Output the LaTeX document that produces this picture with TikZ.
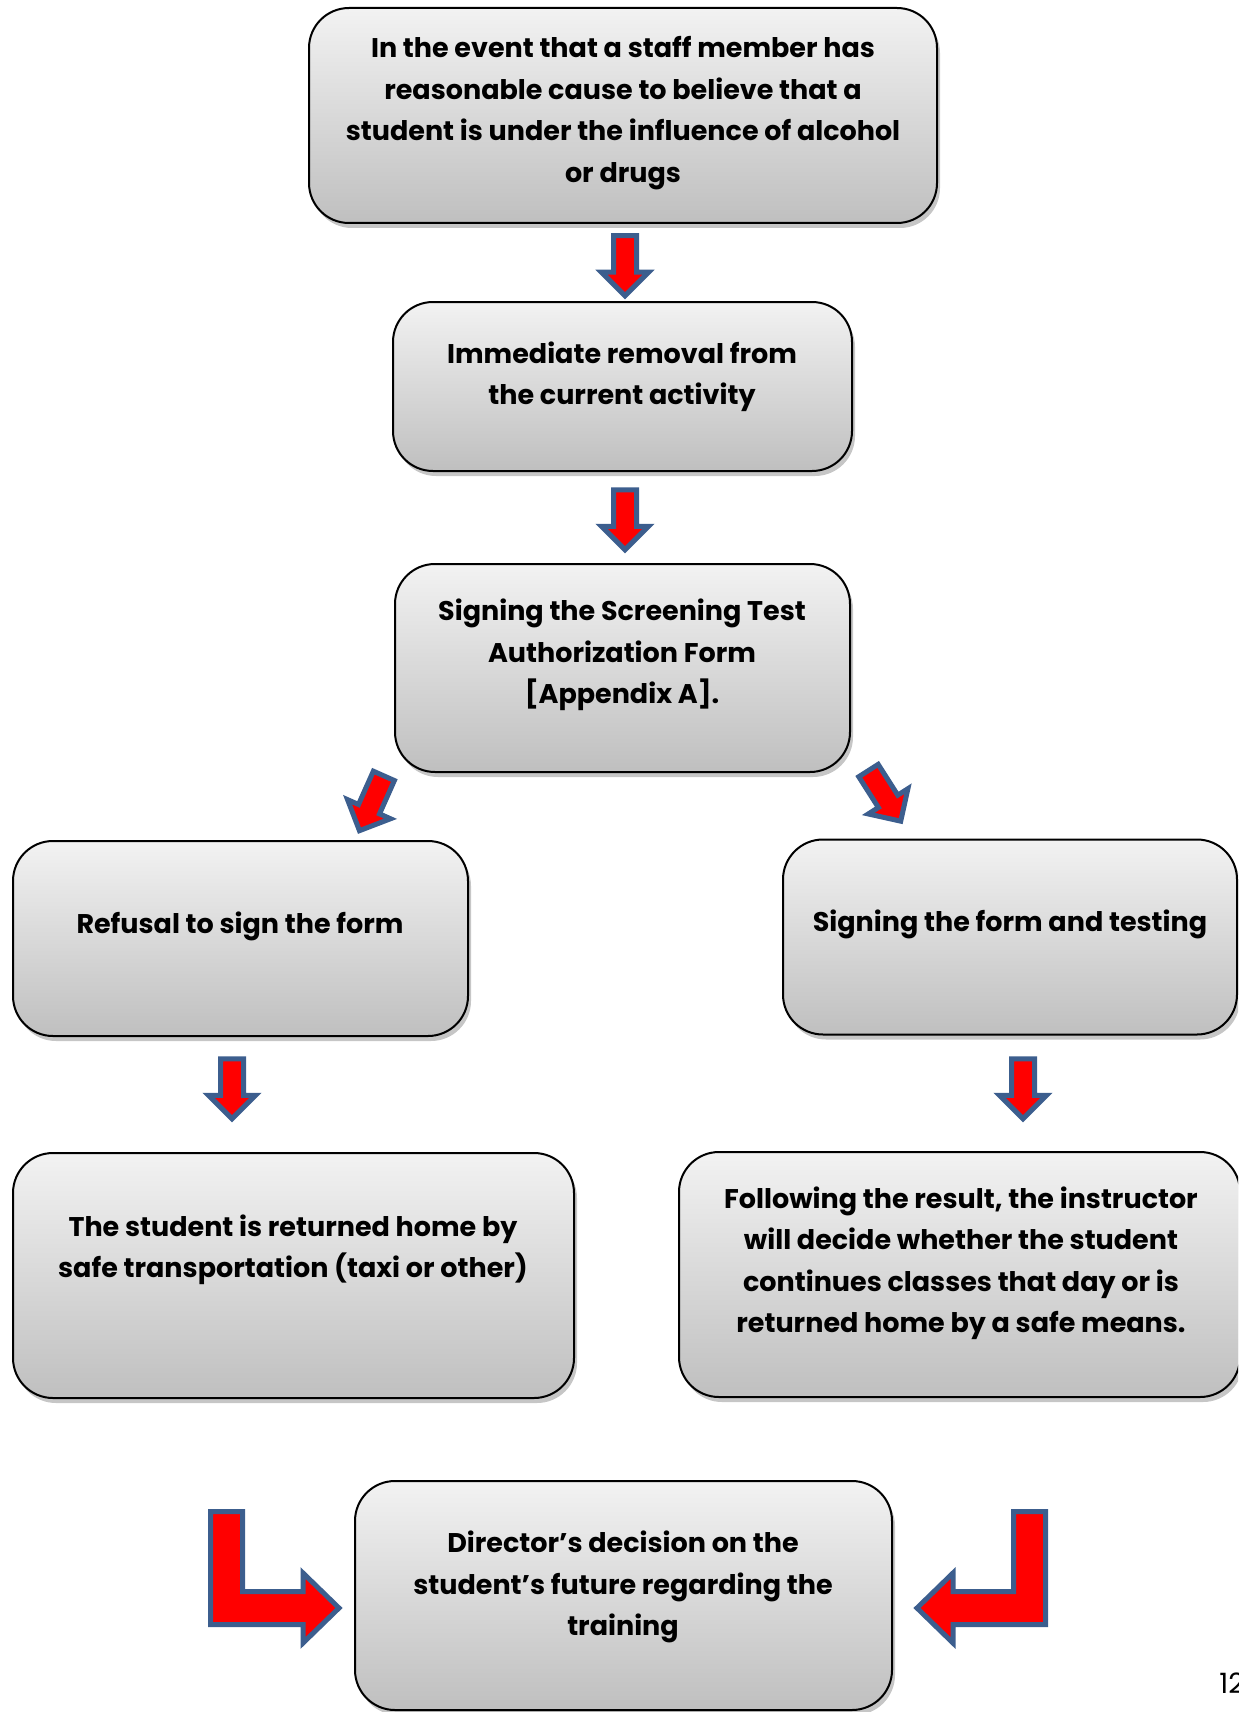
\documentclass[tikz,border=0pt]{standalone}
\usepackage{fontspec}
\setmainfont{Poppins}
\usetikzlibrary{shapes.arrows,shadows}

\definecolor{arrowred}{HTML}{FF0000}
\definecolor{arrowblue}{HTML}{3C5E8E}

\tikzset{
    box/.style={draw=black, line width=1pt, rounded corners=20pt,
        top color=gray!10, bottom color=gray!50,
        drop shadow={shadow xshift=1.5pt, shadow yshift=-2.5pt, opacity=0.45}},
    txt/.style={font=\bfseries\fontsize{13.5}{20.75}\selectfont, align=center},
    blockdown/.style={single arrow, draw=arrowblue, fill=arrowred, line width=2.5pt,
        minimum height=30pt, single arrow head extend=6pt, inner sep=4.5pt},
    bentarrow/.style={draw=arrowblue, fill=arrowred, line width=2.5pt, line join=miter}
}

\begin{document}
\begin{tikzpicture}[x=0.5pt, y=-0.5pt]
        \useasboundingbox (0,0) rectangle (1238,1712);
        \clip (0,0) rectangle (1238,1712);

        % boxes
        \node[box, minimum width=314pt, minimum height=107.5pt] (event) at (623, 115.5) {};
        \node[box, minimum width=229.5pt, minimum height=84.5pt] (removal) at (622.5, 386.5) {};
        \node[box, minimum width=227.5pt, minimum height=104pt] (signing) at (622.5, 668) {};
        \node[box, minimum width=227.5pt, minimum height=97.5pt] (refusal) at (240.5, 938.5) {};
        \node[box, minimum width=227pt, minimum height=97.5pt] (testing) at (1010, 937) {};
        \node[box, minimum width=280.5pt, minimum height=122.5pt] (home) at (293.5, 1275.5) {};
        \node[box, minimum width=280.5pt, minimum height=122.5pt] (result) at (959.5, 1274.5) {};
        \node[box, minimum width=268.5pt, minimum height=114.5pt] (director) at (623.5, 1595.5) {};

        % texts
        \node[txt] (eventtext) at (623, 113) {In the event that a staff member has\\reasonable cause to believe that a\\student is under the influence of alcohol\\or drugs};
        \node[txt] (removaltext) at (622, 377) {Immediate removal from\\the current activity};
        \node[txt] (signingtext) at (622, 655) {Signing the Screening Test\\Authorization Form\\{[Appendix A].}};
        \node[txt] (refusaltext) at (240, 926) {Refusal to sign the form};
        \node[txt] (testingtext) at (1010, 924) {Signing the form and testing};
        \node[txt] (hometext) at (293, 1250) {The student is returned home by\\safe transportation (taxi or other)};
        \node[txt] (resulttext) at (961, 1263) {Following the result, the instructor\\will decide whether the student\\continues classes that day or is\\returned home by a safe means.};
        \node[txt] (directortext) at (623, 1587) {Director’s decision on the\\student’s future regarding the\\training};

        % block arrows
        \node[blockdown, rotate=-90] (down1) at (625, 260) {};
        \node[blockdown, rotate=-90] (down2) at (625, 514) {};
        \node[blockdown, rotate=246] (downleft) at (374, 798) {};
        \node[blockdown, rotate=-57.5] (downright) at (881.5, 791) {};
        \node[blockdown, rotate=-90] (down3) at (232, 1083) {};
        \node[blockdown, rotate=-90] (down4) at (1023, 1083) {};

        \draw[bentarrow] (210.5,1511.5) -- (242.5,1511.5) -- (242.5,1591.5) -- (303,1591.5)
            -- (303,1573) -- (339,1608) -- (303,1643) -- (303,1624.5) -- (210.5,1624.5) -- cycle;
        \draw[bentarrow] (1045.5,1511.5) -- (1013.5,1511.5) -- (1013.5,1591.5) -- (953,1591.5)
            -- (953,1573) -- (917,1608) -- (953,1643) -- (953,1624.5) -- (1045.5,1624.5) -- cycle;

        \node[anchor=base west, inner sep=0pt, font=\fontsize{14}{16}\selectfont] (pagenum) at (1219, 1693) {12};
    \end{tikzpicture}
\end{document}
